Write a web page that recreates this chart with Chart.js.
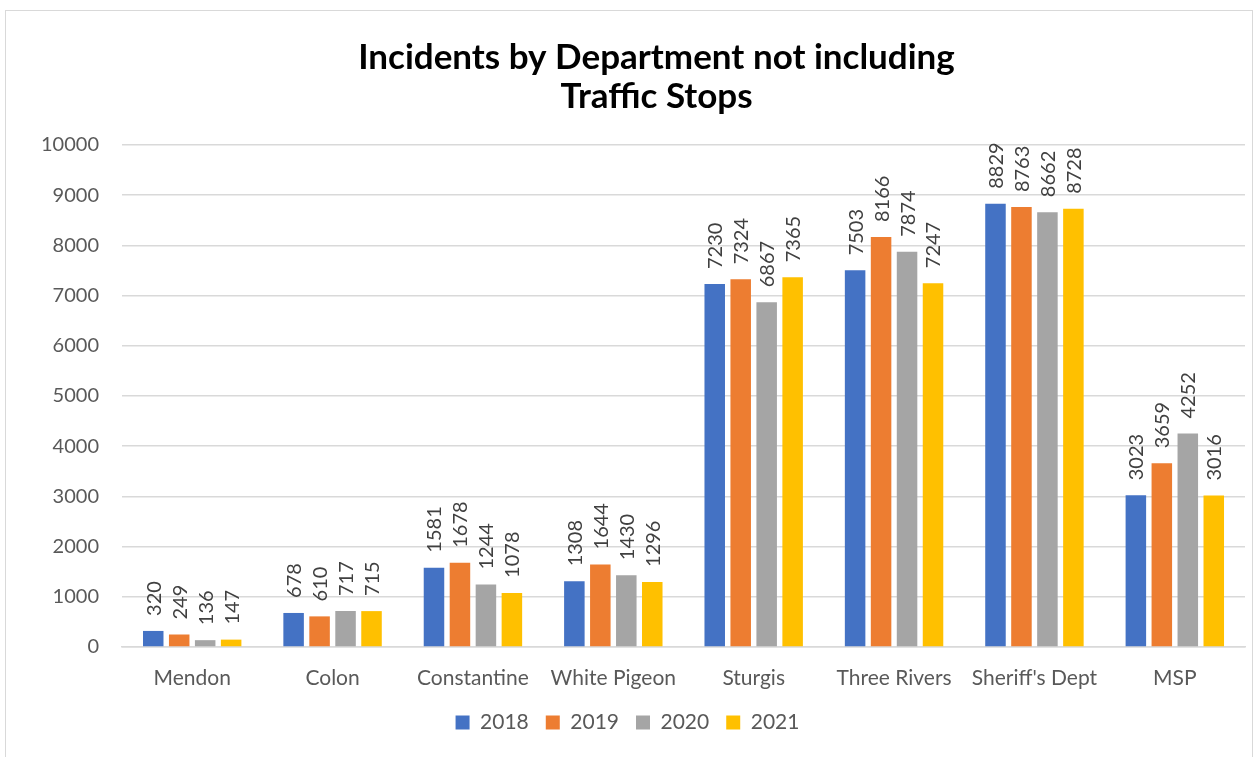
<!DOCTYPE html>
<html>
<head>
<meta charset="utf-8">
<script src="https://cdn.jsdelivr.net/npm/chart.js@4.4.1/dist/chart.umd.min.js"></script>
<style>
  html, body { margin: 0; padding: 0; background: #ffffff; overflow: hidden; }
  #wrap { position: absolute; left: 0; top: 0; width: 1259px; height: 757px; }
  #frame { position: absolute; left: 5px; top: 10px; width: 1248px; height: 800px; border: 1px solid #d9d9d9; box-sizing: border-box; }
  canvas { position: absolute; left: 0; top: 0; }
</style>
</head>
<body>
<div id="wrap">
  <div id="frame"></div>
  <canvas id="chart" width="1259" height="757"></canvas>
</div>
<script>
// datos
const departments = ["Mendon", "Colon", "Constantine", "White Pigeon", "Sturgis", "Three Rivers", "Sheriff's Dept", "MSP"];
const years = ["2018", "2019", "2020", "2021"];
const values2018 = [320, 678, 1581, 1308, 7230, 7503, 8829, 3023];
const values2019 = [249, 610, 1678, 1644, 7324, 8166, 8763, 3659];
const values2020 = [136, 717, 1244, 1430, 6867, 7874, 8662, 4252];
const values2021 = [147, 715, 1078, 1296, 7365, 7247, 8728, 3016];
const yTicks = [0, 1000, 2000, 3000, 4000, 5000, 6000, 7000, 8000, 9000, 10000];
const titleLines = ["Incidents by Department not including", "Traffic Stops"];

const colors = ["#4472c4", "#ed7d31", "#a5a5a5", "#ffc000"];
const textColor = "#595959";
const gridColor = "#d9d9d9";
const fontFamily = "Lato, 'Open Sans', sans-serif";

// título dibujado a mano (Excel lo centra algo a la derecha del lienzo)
const chartTitle = {
  id: "chartTitle",
  afterDraw(chart) {
    const ctx = chart.ctx;
    const cx = (chart.width / 2 + (chart.chartArea.left + chart.chartArea.right) / 2) / 2;
    ctx.save();
    ctx.font = "bold 35px " + fontFamily;
    ctx.fillStyle = "#000000";
    ctx.textAlign = "center";
    ctx.textBaseline = "alphabetic";
    titleLines.forEach((line, i) => ctx.fillText(line, cx, 69 + i * 39));
    ctx.restore();
  }
};

// etiquetas verticales encima de cada barra
const barLabels = {
  id: "barLabels",
  afterDatasetsDraw(chart) {
    const ctx = chart.ctx;
    ctx.save();
    ctx.font = "20px " + fontFamily;
    ctx.fillStyle = "#404040";
    ctx.textAlign = "left";
    ctx.textBaseline = "middle";
    chart.data.datasets.forEach((ds, i) => {
      const meta = chart.getDatasetMeta(i);
      meta.data.forEach((bar, j) => {
        ctx.save();
        ctx.translate(bar.x + 1, bar.y - 15);
        ctx.rotate(-Math.PI / 2);
        ctx.fillText(String(ds.data[j]), 0, 0);
        ctx.restore();
      });
    });
    ctx.restore();
  }
};

const datasets = [values2018, values2019, values2020, values2021].map((vals, i) => ({
  label: years[i],
  data: vals,
  backgroundColor: colors[i],
  borderWidth: 0,
  categoryPercentage: 0.74,
  barPercentage: 0.79,
}));

new Chart(document.getElementById("chart").getContext("2d"), {
  type: "bar",
  data: { labels: departments, datasets: datasets },
  options: {
    responsive: false,
    animation: false,
    layout: { padding: { left: 10, right: 14, top: 145, bottom: 14 } },
    plugins: {
      title: { display: false },
      legend: {
        position: "bottom",
        labels: {
          color: textColor,
          font: { family: fontFamily, size: 21 },
          boxWidth: 14,
          boxHeight: 14,
          padding: 17,
        },
      },
      tooltip: { enabled: false },
    },
    scales: {
      y: {
        min: 0,
        max: 10000,
        afterFit(scale) { scale.width = 112; },
        afterBuildTicks(scale) { scale.ticks = yTicks.map(v => ({ value: v })); },
        grid: { color: gridColor, lineWidth: 1.5, drawTicks: false },
        border: { display: false },
        ticks: {
          color: textColor,
          font: { family: fontFamily, size: 20 },
          padding: 23,
          callback: (v) => String(v),
        },
      },
      x: {
        afterFit(scale) { scale.height = 48; },
        grid: { display: false, drawTicks: false },
        border: { display: true, color: gridColor, width: 1.5 },
        ticks: { color: textColor, font: { family: fontFamily, size: 21 }, padding: 19, maxRotation: 0 },
      },
    },
  },
  plugins: [barLabels, chartTitle],
});
</script>
</body>
</html>
